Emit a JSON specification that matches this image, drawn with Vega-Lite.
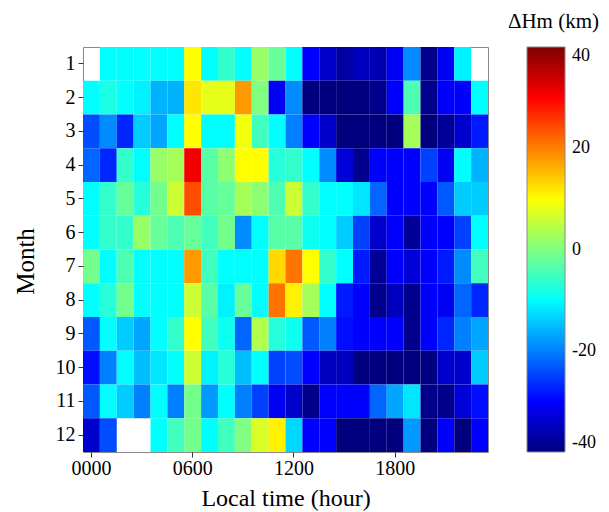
{
  "$schema": "https://vega.github.io/schema/vega-lite/v6.json",
  "width": 405,
  "height": 405,
  "autosize": {"type": "none"},
  "padding": {"left": 83, "top": 47, "right": 121, "bottom": 60},
  "background": "white",
  "config": {
    "view": {"stroke": "#888888", "strokeWidth": 1},
    "font": "Liberation Serif",
    "title": {"font": "Liberation Serif", "fontSize": 21, "fontWeight": "normal", "color": "black"},
    "style": {"group-title": {"font": "Liberation Serif", "fontSize": 21, "fontWeight": "normal"}}
  },
  "title": {"text": "ΔHm (km)", "anchor": "end", "frame": "group", "dx": 111, "dy": 22, "offset": 20, "baseline": "alphabetic", "font": "Liberation Serif", "fontSize": 21, "fontWeight": "normal", "color": "black"},
  "data": {"values": [
    {"m":1,"h":1,"v":-10},{"m":1,"h":2,"v":-10},{"m":1,"h":3,"v":-10},{"m":1,"h":4,"v":-10},{"m":1,"h":5,"v":-10},{"m":1,"h":6,"v":10},{"m":1,"h":7,"v":-10},{"m":1,"h":8,"v":-6},{"m":1,"h":9,"v":-10},{"m":1,"h":10,"v":2},{"m":1,"h":11,"v":-2},{"m":1,"h":12,"v":-10},{"m":1,"h":13,"v":-30},{"m":1,"h":14,"v":-34},{"m":1,"h":15,"v":-37},{"m":1,"h":16,"v":-35},{"m":1,"h":17,"v":-36},{"m":1,"h":18,"v":-31},{"m":1,"h":19,"v":-19},{"m":1,"h":20,"v":-39},{"m":1,"h":21,"v":-31},{"m":1,"h":22,"v":-11},
    {"m":2,"h":0,"v":-10},{"m":2,"h":1,"v":-8},{"m":2,"h":2,"v":-10},{"m":2,"h":3,"v":-11},{"m":2,"h":4,"v":-16},{"m":2,"h":5,"v":-16},{"m":2,"h":6,"v":12},{"m":2,"h":7,"v":8},{"m":2,"h":8,"v":8},{"m":2,"h":9,"v":18},{"m":2,"h":10,"v":0},{"m":2,"h":11,"v":-31},{"m":2,"h":12,"v":-19},{"m":2,"h":13,"v":-40},{"m":2,"h":14,"v":-40},{"m":2,"h":15,"v":-40},{"m":2,"h":16,"v":-40},{"m":2,"h":17,"v":-39},{"m":2,"h":18,"v":-30},{"m":2,"h":19,"v":-4},{"m":2,"h":20,"v":-39},{"m":2,"h":21,"v":-30},{"m":2,"h":22,"v":-30},{"m":2,"h":23,"v":-10},
    {"m":3,"h":0,"v":-24},{"m":3,"h":1,"v":-19},{"m":3,"h":2,"v":-27},{"m":3,"h":3,"v":-14},{"m":3,"h":4,"v":-17},{"m":3,"h":5,"v":-10},{"m":3,"h":6,"v":10},{"m":3,"h":7,"v":-10},{"m":3,"h":8,"v":-10},{"m":3,"h":9,"v":9},{"m":3,"h":10,"v":-5},{"m":3,"h":11,"v":-10},{"m":3,"h":12,"v":-20},{"m":3,"h":13,"v":-30},{"m":3,"h":14,"v":-34},{"m":3,"h":15,"v":-40},{"m":3,"h":16,"v":-40},{"m":3,"h":17,"v":-40},{"m":3,"h":18,"v":-40},{"m":3,"h":19,"v":3},{"m":3,"h":20,"v":-40},{"m":3,"h":21,"v":-38},{"m":3,"h":22,"v":-34},{"m":3,"h":23,"v":-28},
    {"m":4,"h":0,"v":-22},{"m":4,"h":1,"v":-27},{"m":4,"h":2,"v":-6},{"m":4,"h":3,"v":-10},{"m":4,"h":4,"v":2},{"m":4,"h":5,"v":3},{"m":4,"h":6,"v":31},{"m":4,"h":7,"v":-3},{"m":4,"h":8,"v":1},{"m":4,"h":9,"v":10},{"m":4,"h":10,"v":10},{"m":4,"h":11,"v":-7},{"m":4,"h":12,"v":-6},{"m":4,"h":13,"v":-10},{"m":4,"h":14,"v":-19},{"m":4,"h":15,"v":-33},{"m":4,"h":16,"v":-39},{"m":4,"h":17,"v":-30},{"m":4,"h":18,"v":-30},{"m":4,"h":19,"v":-30},{"m":4,"h":20,"v":-25},{"m":4,"h":21,"v":-31},{"m":4,"h":22,"v":-10},{"m":4,"h":23,"v":-16},
    {"m":5,"h":0,"v":-10},{"m":5,"h":1,"v":-6},{"m":5,"h":2,"v":-2},{"m":5,"h":3,"v":-7},{"m":5,"h":4,"v":-1},{"m":5,"h":5,"v":6},{"m":5,"h":6,"v":24},{"m":5,"h":7,"v":-3},{"m":5,"h":8,"v":-2},{"m":5,"h":9,"v":3},{"m":5,"h":10,"v":1},{"m":5,"h":11,"v":-4},{"m":5,"h":12,"v":6},{"m":5,"h":13,"v":-6},{"m":5,"h":14,"v":-10},{"m":5,"h":15,"v":-10},{"m":5,"h":16,"v":-12},{"m":5,"h":17,"v":-22},{"m":5,"h":18,"v":-30},{"m":5,"h":19,"v":-30},{"m":5,"h":20,"v":-30},{"m":5,"h":21,"v":-23},{"m":5,"h":22,"v":-14},{"m":5,"h":23,"v":-14},
    {"m":6,"h":0,"v":-10},{"m":6,"h":1,"v":-6},{"m":6,"h":2,"v":-6},{"m":6,"h":3,"v":2},{"m":6,"h":4,"v":-2},{"m":6,"h":5,"v":-4},{"m":6,"h":6,"v":-2},{"m":6,"h":7,"v":-5},{"m":6,"h":8,"v":-1},{"m":6,"h":9,"v":-19},{"m":6,"h":10,"v":-10},{"m":6,"h":11,"v":-3},{"m":6,"h":12,"v":-3},{"m":6,"h":13,"v":-9},{"m":6,"h":14,"v":-10},{"m":6,"h":15,"v":-14},{"m":6,"h":16,"v":-25},{"m":6,"h":17,"v":-34},{"m":6,"h":18,"v":-30},{"m":6,"h":19,"v":-38},{"m":6,"h":20,"v":-30},{"m":6,"h":21,"v":-30},{"m":6,"h":22,"v":-25},{"m":6,"h":23,"v":-10},
    {"m":7,"h":0,"v":-1},{"m":7,"h":1,"v":-10},{"m":7,"h":2,"v":-4},{"m":7,"h":3,"v":-10},{"m":7,"h":4,"v":-10},{"m":7,"h":5,"v":-10},{"m":7,"h":6,"v":18},{"m":7,"h":7,"v":-5},{"m":7,"h":8,"v":-10},{"m":7,"h":9,"v":-10},{"m":7,"h":10,"v":-10},{"m":7,"h":11,"v":13},{"m":7,"h":12,"v":21},{"m":7,"h":13,"v":10},{"m":7,"h":14,"v":-6},{"m":7,"h":15,"v":-10},{"m":7,"h":16,"v":-28},{"m":7,"h":17,"v":-38},{"m":7,"h":18,"v":-30},{"m":7,"h":19,"v":-33},{"m":7,"h":20,"v":-30},{"m":7,"h":21,"v":-28},{"m":7,"h":22,"v":-19},{"m":7,"h":23,"v":-5},
    {"m":8,"h":0,"v":-10},{"m":8,"h":1,"v":-7},{"m":8,"h":2,"v":-1},{"m":8,"h":3,"v":-10},{"m":8,"h":4,"v":-10},{"m":8,"h":5,"v":-10},{"m":8,"h":6,"v":6},{"m":8,"h":7,"v":-3},{"m":8,"h":8,"v":-11},{"m":8,"h":9,"v":-2},{"m":8,"h":10,"v":-10},{"m":8,"h":11,"v":21},{"m":8,"h":12,"v":11},{"m":8,"h":13,"v":3},{"m":8,"h":14,"v":-10},{"m":8,"h":15,"v":-28},{"m":8,"h":16,"v":-30},{"m":8,"h":17,"v":-39},{"m":8,"h":18,"v":-35},{"m":8,"h":19,"v":-39},{"m":8,"h":20,"v":-30},{"m":8,"h":21,"v":-31},{"m":8,"h":22,"v":-22},{"m":8,"h":23,"v":-27},
    {"m":9,"h":0,"v":-23},{"m":9,"h":1,"v":-10},{"m":9,"h":2,"v":-14},{"m":9,"h":3,"v":-17},{"m":9,"h":4,"v":-10},{"m":9,"h":5,"v":-6},{"m":9,"h":6,"v":10},{"m":9,"h":7,"v":-5},{"m":9,"h":8,"v":-9},{"m":9,"h":9,"v":-22},{"m":9,"h":10,"v":4},{"m":9,"h":11,"v":-7},{"m":9,"h":12,"v":-9},{"m":9,"h":13,"v":-23},{"m":9,"h":14,"v":-20},{"m":9,"h":15,"v":-29},{"m":9,"h":16,"v":-30},{"m":9,"h":17,"v":-30},{"m":9,"h":18,"v":-30},{"m":9,"h":19,"v":-39},{"m":9,"h":20,"v":-30},{"m":9,"h":21,"v":-27},{"m":9,"h":22,"v":-20},{"m":9,"h":23,"v":-17},
    {"m":10,"h":0,"v":-29},{"m":10,"h":1,"v":-20},{"m":10,"h":2,"v":-10},{"m":10,"h":3,"v":-15},{"m":10,"h":4,"v":-12},{"m":10,"h":5,"v":-10},{"m":10,"h":6,"v":6},{"m":10,"h":7,"v":-11},{"m":10,"h":8,"v":-7},{"m":10,"h":9,"v":-15},{"m":10,"h":10,"v":-10},{"m":10,"h":11,"v":-25},{"m":10,"h":12,"v":-24},{"m":10,"h":13,"v":-30},{"m":10,"h":14,"v":-35},{"m":10,"h":15,"v":-35},{"m":10,"h":16,"v":-40},{"m":10,"h":17,"v":-40},{"m":10,"h":18,"v":-40},{"m":10,"h":19,"v":-40},{"m":10,"h":20,"v":-40},{"m":10,"h":21,"v":-34},{"m":10,"h":22,"v":-34},{"m":10,"h":23,"v":-14},
    {"m":11,"h":0,"v":-23},{"m":11,"h":1,"v":-10},{"m":11,"h":2,"v":-14},{"m":11,"h":3,"v":-20},{"m":11,"h":4,"v":-10},{"m":11,"h":5,"v":-20},{"m":11,"h":6,"v":-1},{"m":11,"h":7,"v":-18},{"m":11,"h":8,"v":-10},{"m":11,"h":9,"v":-20},{"m":11,"h":10,"v":-25},{"m":11,"h":11,"v":-31},{"m":11,"h":12,"v":-34},{"m":11,"h":13,"v":-39},{"m":11,"h":14,"v":-30},{"m":11,"h":15,"v":-30},{"m":11,"h":16,"v":-30},{"m":11,"h":17,"v":-22},{"m":11,"h":18,"v":-17},{"m":11,"h":19,"v":-12},{"m":11,"h":20,"v":-39},{"m":11,"h":21,"v":-39},{"m":11,"h":22,"v":-33},{"m":11,"h":23,"v":-29},
    {"m":12,"h":0,"v":-34},{"m":12,"h":1,"v":-24},{"m":12,"h":4,"v":-10},{"m":12,"h":5,"v":-5},{"m":12,"h":6,"v":-1},{"m":12,"h":7,"v":-10},{"m":12,"h":8,"v":-5},{"m":12,"h":9,"v":0},{"m":12,"h":10,"v":7},{"m":12,"h":11,"v":11},{"m":12,"h":12,"v":-13},{"m":12,"h":13,"v":-30},{"m":12,"h":14,"v":-30},{"m":12,"h":15,"v":-40},{"m":12,"h":16,"v":-40},{"m":12,"h":17,"v":-40},{"m":12,"h":18,"v":-40},{"m":12,"h":19,"v":-18},{"m":12,"h":20,"v":-40},{"m":12,"h":21,"v":-30},{"m":12,"h":22,"v":-40},{"m":12,"h":23,"v":-30}
  ]},
  "mark": {"type": "rect"},
  "encoding": {
    "x": {
      "field": "h", "type": "ordinal",
      "scale": {"domain": [0,1,2,3,4,5,6,7,8,9,10,11,12,13,14,15,16,17,18,19,20,21,22,23], "paddingInner": 0, "paddingOuter": 0},
      "axis": {
        "values": [0, 6, 12, 18],
        "labelExpr": "(datum.value < 10 ? '0' : '') + datum.value + '00'",
        "labelAngle": 0, "title": "Local time (hour)", "domain": false,
        "tickSize": 5, "tickColor": "#333333", "labelFont": "Liberation Serif", "labelFontSize": 20,
        "labelColor": "black", "labelPadding": 1, "titleFont": "Liberation Serif", "titleFontSize": 24,
        "titleFontWeight": "normal", "titleColor": "black", "titlePadding": 8
      }
    },
    "y": {
      "field": "m", "type": "ordinal",
      "scale": {"domain": [1,2,3,4,5,6,7,8,9,10,11,12], "paddingInner": 0, "paddingOuter": 0},
      "axis": {
        "title": "Month", "domain": false, "tickSize": 5, "tickColor": "#333333",
        "labelFont": "Liberation Serif", "labelFontSize": 20, "labelColor": "black", "labelPadding": 3,
        "titleFont": "Liberation Serif", "titleFontSize": 25, "titleFontWeight": "normal", "titleColor": "black",
        "titleAngle": -90, "titleBaseline": "alphabetic", "titleAlign": "center", "titleX": -50, "titleY": 214
      }
    },
    "color": {
      "field": "v", "type": "quantitative",
      "scale": {"type": "linear", "domain": [-40, -30, -10, 10, 30, 40], "range": ["#00007f", "#0000ff", "#00ffff", "#ffff00", "#ff0000", "#7f0000"], "interpolate": "rgb"},
      "legend": {
        "orient": "none", "legendX": 444, "legendY": 0, "direction": "vertical",
        "gradientLength": 405, "gradientThickness": 38, "values": [-40, -20, 0, 20, 40],
        "labelExpr": "datum.value == 0 ? ' 0' : (datum.value < 0 ? '-' + (-datum.value) : '' + datum.value)",
        "title": null,
        "labelFont": "Liberation Serif", "labelFontSize": 18, "labelColor": "black",
        "labelOffset": 7, "labelBaseline": "middle", "labelOverlap": false,
        "gradientStrokeColor": "#888888", "gradientStrokeWidth": 1, "padding": 0
      }
    }
  }
}
